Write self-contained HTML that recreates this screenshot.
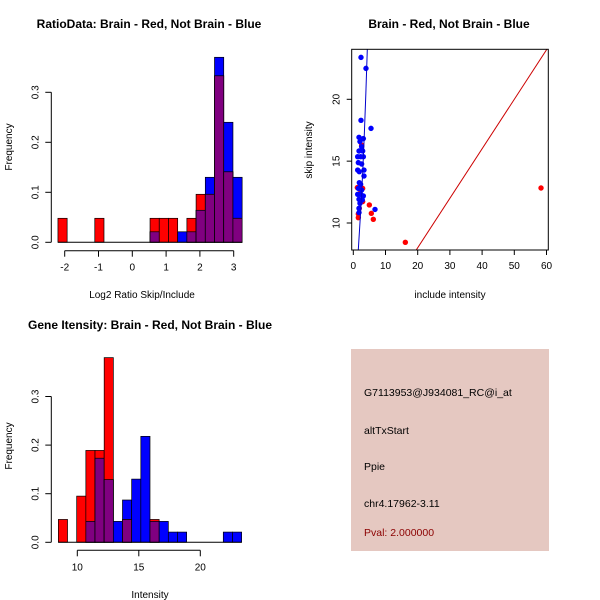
<!DOCTYPE html>
<html><head><meta charset="utf-8"><style>
body{margin:0;background:#fff}
svg{display:block;font-family:"Liberation Sans",Arial,sans-serif}
</style></head><body>
<svg id="c" width="600" height="600" xmlns="http://www.w3.org/2000/svg"></svg>
<script>
// ---- Ratio histogram data ----
const ratioBinStart = -2.2, ratioBinEnd = 3.25;
const ratioRed  = [0.048,0,0,0,0.048,0,0,0,0,0,0.048,0.048,0.048,0,0.048,0.096,0.096,0.333,0.141,0.048];
const ratioBlue = [0,0,0,0,0,0,0,0,0,0,0.021,0,0,0.021,0.021,0.064,0.13,0.37,0.24,0.13];
const ratioXTicks = [-2,-1,0,1,2,3];
const ratioYTicks = [0,0.1,0.2,0.3];
// ---- Intensity histogram data ----
const intBinStart = 8.46, intBinEnd = 23.36;
const intRed  = [0.047,0,0.095,0.189,0.189,0.38,0,0.047,0,0,0.047,0,0,0,0,0,0,0,0,0];
const intBlue = [0,0,0,0.043,0.173,0.129,0.043,0.087,0.13,0.218,0.043,0.043,0.021,0.021,0,0,0,0,0.021,0.021];
const intXTicks = [10,15,20];
const intYTicks = [0,0.1,0.2,0.3];
// ---- Scatter data ----
const blueX = [2.39,3.94,2.39,5.5,1.77,3.12,2.07,2.59,1.77,2.91,1.36,2.28,3.12,1.56,2.59,1.36,3.32,1.87,3.32,1.87,2.28,1.56,2.59,1.36,2.28,3.12,1.77,2.8,2.07,1.77,6.74,1.77];
const blueY = [23.39,22.5,18.3,17.65,16.93,16.82,16.58,16.17,15.82,15.82,15.36,15.36,15.36,14.88,14.77,14.28,14.28,14.15,13.8,13.26,13.13,12.8,12.67,12.32,12.32,12.19,11.92,11.86,11.6,11.19,11.1,10.84];
const redX = [1.25,2.91,2.07,2.91,4.98,5.6,6.22,1.56,1.56,1.87,16.16,58.3,2.59];
const redY = [12.86,12.8,12.4,11.73,11.46,10.78,10.3,10.73,10.43,11.19,8.44,12.83,16.3];
const fitX = [1.55,2.3,2.9,3.4,3.9,4.35];
const fitY = [7.82,11,14,17,20.5,24.04];
const diagSlope = 0.4;
const scXTicks = [0,10,20,30,40,50,60];
const scYTicks = [10,15,20];

const NS="http://www.w3.org/2000/svg", svg=document.getElementById('c');
function mk(tag,a,parent){const e=document.createElementNS(NS,tag);for(const k in a)e.setAttribute(k,a[k]);(parent||svg).appendChild(e);return e;}
function txt(s,x,y,a,parent){const e=mk('text',Object.assign({x:x,y:y,'text-anchor':'middle','font-size':10},a||{}),parent);e.textContent=s;return e;}

function hist(opts){
  const g=mk('g',{});
  
  
  const sx=v=>opts.x0px+(v-opts.xv0)*opts.kx, sy=v=>opts.y0px-v*opts.ky;
  const n=opts.red.length, w=(opts.end-opts.start)/n;
  for(let i=0;i<n;i++){
    const a=opts.start+i*w,b=a+w, r=opts.red[i], bl=opts.blue[i];
    const x1=sx(a),x2=sx(b);
    if(bl>0){const e=mk('rect',{x:x1,y:sy(bl),width:x2-x1,height:sy(0)-sy(bl),fill:'#0000ff',stroke:'#000','stroke-width':0.7},g);
      }
    if(r>0){const e=mk('rect',{x:x1,y:sy(r),width:x2-x1,height:sy(0)-sy(r),fill:'#ff0000',stroke:'#000','stroke-width':0.7},g);
      }
    const m=Math.min(r,bl);
    if(m>0){const e=mk('rect',{x:x1,y:sy(m),width:x2-x1,height:sy(0)-sy(m),fill:'#800080',stroke:'#000','stroke-width':0.7},g);
      }
  }
  mk('line',{x1:sx(opts.start),x2:sx(opts.end),y1:sy(0),y2:sy(0),stroke:'#000'},g);
  const xt=opts.xticks, ay=opts.xAxisY;
  mk('line',{x1:sx(xt[0]),x2:sx(xt[xt.length-1]),y1:ay,y2:ay,stroke:'#000'},g);
  xt.forEach(t=>{mk('line',{x1:sx(t),x2:sx(t),y1:ay,y2:ay+6,stroke:'#000'},g);txt(String(t),sx(t),ay+20,{},g);});
  const yt=opts.yticks, ax=opts.yAxisX;
  mk('line',{x1:ax,x2:ax,y1:sy(yt[0]),y2:sy(yt[yt.length-1]),stroke:'#000'},g);
  yt.forEach(t=>{mk('line',{x1:ax,x2:ax-6,y1:sy(t),y2:sy(t),stroke:'#000'},g);
    txt(t.toFixed(1),ax-13,sy(t),{transform:`rotate(-90 ${ax-13} ${sy(t)})`},g);});
}

hist({name:'ratio-histogram',red:ratioRed,blue:ratioBlue,start:ratioBinStart,end:ratioBinEnd,
  x0px:132.3,xv0:0,kx:33.8,y0px:242.3,ky:500,xticks:ratioXTicks,yticks:ratioYTicks,xAxisY:250.7,yAxisX:51.3});
hist({name:'intensity-histogram',red:intRed,blue:intBlue,start:intBinStart,end:intBinEnd,
  x0px:77.3,xv0:10,kx:12.3,y0px:542.3,ky:486,xticks:intXTicks,yticks:intYTicks,xAxisY:550.3,yAxisX:51.3});

let e;
e=txt('RatioData: Brain - Red, Not Brain - Blue',149,28,{'font-size':12,'font-weight':'bold'});
e=txt('Log2 Ratio Skip/Include',142,298);
e=txt('Frequency',12,147,{transform:'rotate(-90 12 147)'});
e=txt('Gene Itensity: Brain - Red, Not Brain - Blue',150,329,{'font-size':12,'font-weight':'bold'});
e=txt('Intensity',150,598);
e=txt('Frequency',12,446,{transform:'rotate(-90 12 446)'});

const sg=mk('g',{});


const L=351.7,R=548.3,T=49.3,B=250;
const px=v=>353.3+v*3.22, py=v=>223-(v-10)*12.37;
const cp=mk('clipPath',{id:'cp'},sg);mk('rect',{x:L,y:T,width:R-L,height:B-T},cp);
const inner=mk('g',{'clip-path':'url(#cp)'},sg);
for(let i=0;i<redX.length;i++){const c=mk('circle',{cx:px(redX[i]),cy:py(redY[i]),r:2.7,fill:'#ff0000'},inner);
  }
for(let i=0;i<blueX.length;i++){const c=mk('circle',{cx:px(blueX[i]),cy:py(blueY[i]),r:2.7,fill:'#0000ff'},inner);
  }
const dl=mk('line',{x1:px(0),y1:py(0),x2:px(70),y2:py(70*diagSlope),stroke:'#cc0000','stroke-width':1},inner);

const fl=mk('polyline',{points:fitX.map((v,i)=>px(v)+','+py(fitY[i])).join(' '),fill:'none',stroke:'#0000cc','stroke-width':1},inner);

mk('rect',{x:L,y:T,width:R-L,height:B-T,fill:'none',stroke:'#000'},sg);
scXTicks.forEach(t=>{mk('line',{x1:px(t),x2:px(t),y1:B,y2:B+5,stroke:'#000'},sg);txt(String(t),px(t),B+19,{},sg);});
scYTicks.forEach(t=>{mk('line',{x1:L,x2:L-5,y1:py(t),y2:py(t),stroke:'#000'},sg);txt(String(t),L-12,py(t),{transform:`rotate(-90 ${L-12} ${py(t)})`},sg);});
e=txt('Brain - Red, Not Brain - Blue',449,28,{'font-size':12,'font-weight':'bold'});
e=txt('include intensity',450,298);
e=txt('skip intensity',312,150,{transform:'rotate(-90 312 150)'});

const ib=mk('g',{});


mk('rect',{x:351,y:349,width:198,height:202,fill:'#e5c8c1'},ib);
const lines=[['G7113953@J934081_RC@i_at',396,'#000'],['altTxStart',434,'#000'],['Ppie',470,'#000'],['chr4.17962-3.11',507,'#000'],['Pval: 2.000000',536,'#8b0000']];
lines.forEach(l=>{const t=txt(l[0],364,l[1],{'text-anchor':'start','font-size':10.5,fill:l[2]},ib);
  });
</script>
</body></html>
